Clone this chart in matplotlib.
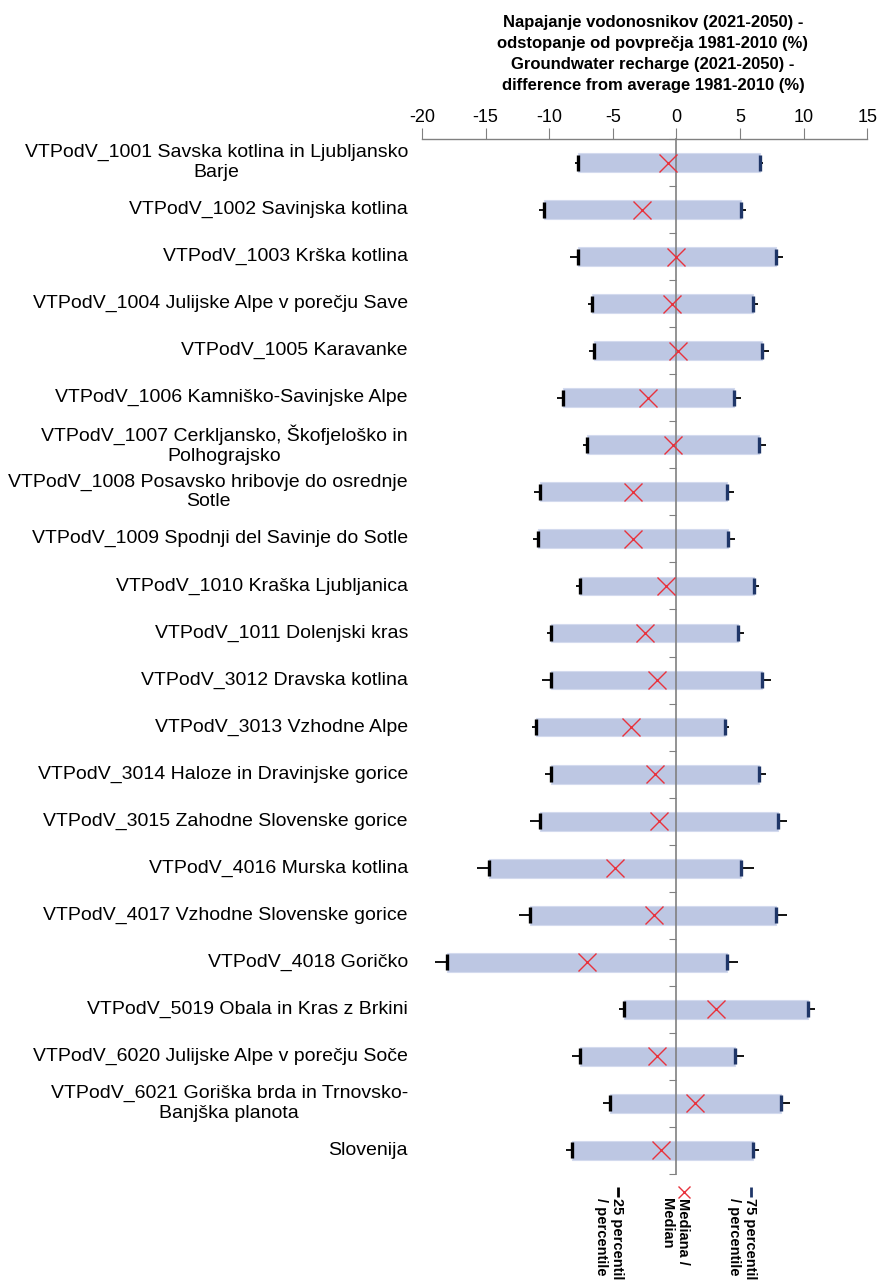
import numpy as np
import matplotlib
matplotlib.use("Agg")
import matplotlib.pyplot as plt
from matplotlib.transforms import blended_transform_factory
from matplotlib.lines import Line2D

plt.rcParams['font.family'] = ['Liberation Sans', 'DejaVu Sans']

categories = [
    "VTPodV_1001 Savska kotlina in Ljubljansko\nBarje",
    "VTPodV_1002 Savinjska kotlina",
    "VTPodV_1003 Krška kotlina",
    "VTPodV_1004 Julijske Alpe v porečju Save",
    "VTPodV_1005 Karavanke",
    "VTPodV_1006 Kamniško-Savinjske Alpe",
    "VTPodV_1007 Cerkljansko, Škofjeloško in\nPolhograjsko",
    "VTPodV_1008 Posavsko hribovje do osrednje\nSotle",
    "VTPodV_1009 Spodnji del Savinje do Sotle",
    "VTPodV_1010 Kraška Ljubljanica",
    "VTPodV_1011 Dolenjski kras",
    "VTPodV_3012 Dravska kotlina",
    "VTPodV_3013 Vzhodne Alpe",
    "VTPodV_3014 Haloze in Dravinjske gorice",
    "VTPodV_3015 Zahodne Slovenske gorice",
    "VTPodV_4016 Murska kotlina",
    "VTPodV_4017 Vzhodne Slovenske gorice",
    "VTPodV_4018 Goričko",
    "VTPodV_5019 Obala in Kras z Brkini",
    "VTPodV_6020 Julijske Alpe v porečju Soče",
    "VTPodV_6021 Goriška brda in Trnovsko-\nBanjška planota",
    "Slovenija",
]

p25 = [-7.75, -10.4, -7.75, -6.65, -6.45, -8.9, -7.05, -10.75, -10.9, -7.6, -9.85,
       -9.85, -11.05, -9.85, -10.75, -14.7, -11.5, -18.05, -4.1, -7.6, -5.2, -8.2]
median = [-0.65, -2.7, 0.0, -0.35, 0.15, -2.2, -0.25, -3.4, -3.4, -0.8, -2.5,
          -1.55, -3.6, -1.65, -1.4, -4.85, -1.8, -7.05, 3.1, -1.5, 1.45, -1.2]
p75 = [6.6, 5.1, 7.8, 6.0, 6.75, 4.55, 6.5, 4.0, 4.05, 6.1, 4.85,
       6.75, 3.8, 6.5, 7.95, 5.05, 7.85, 3.95, 10.3, 4.6, 8.2, 6.0]
low = [-8.0, -10.8, -8.4, -6.95, -6.9, -9.4, -7.35, -11.2, -11.3, -7.9, -10.2,
       -10.55, -11.35, -10.35, -11.5, -15.7, -12.4, -19.0, -4.55, -8.2, -5.8, -8.65]
high = [6.8, 5.5, 8.4, 6.4, 7.25, 5.1, 7.0, 4.5, 4.6, 6.5, 5.3,
        7.45, 4.1, 7.05, 8.7, 6.1, 8.7, 4.85, 10.85, 5.3, 8.95, 6.5]

xticks = [-20, -15, -10, -5, 0, 5, 10, 15]

title = ("Napajanje vodonosnikov (2021-2050) -\n"
         "odstopanje od povprečja 1981-2010 (%)\n"
         "Groundwater recharge (2021-2050) -\n"
         "difference from average 1981-2010 (%)")

W, H = 878, 1281
fig = plt.figure(figsize=(W / 100, H / 100), dpi=100)
ax = fig.add_axes([422 / W, 1 - 1174 / H, (867.3 - 422) / W, (1174 - 139) / H])

n = len(categories)
y = np.arange(n)
p25a, p75a = np.array(p25), np.array(p75)

ax.barh(y, p75a - p25a, left=p25a, height=0.40, color='#BDC7E3',
        edgecolor='#D3DAEE', linewidth=0.8, zorder=2)
ax.hlines(y, low, p25, color='black', lw=1.3, zorder=3)
ax.hlines(y, p75, high, color='black', lw=1.3, zorder=3)
ax.plot(p25, y, ls='none', marker='|', ms=12, mew=2.4, color='black', zorder=4)
ax.plot(p75, y, ls='none', marker='|', ms=12, mew=2.4, color='#1F3668', zorder=4)
ax.plot(median, y, ls='none', marker='x', ms=13, mew=1.0, color='#E8323C', zorder=5)

ax.set_xlim(-20, 15)
ax.set_ylim(n - 0.5, -0.5)
ax.xaxis.tick_top()
ax.set_xticks(xticks)
ax.set_xticklabels([str(v) for v in xticks], fontsize=13)
ax.tick_params(axis='x', direction='out', length=8, color='#808080', pad=1)

ax.spines['bottom'].set_visible(False)
ax.spines['right'].set_visible(False)
ax.spines['top'].set_color('#808080')
ax.spines['top'].set_linewidth(1.0)
ax.spines['left'].set_position(('data', 0))
ax.spines['left'].set_color('#808080')
ax.spines['left'].set_linewidth(1.2)
ax.set_yticks(np.arange(-0.5, n, 1.0))
ax.tick_params(axis='y', direction='out', length=5, color='#808080', labelleft=False)

trans = blended_transform_factory(fig.transFigure, ax.transData)
for yi, cat in zip(y, categories):
    ax.text(408 / W, yi, cat, transform=trans, ha='right', va='center',
            multialignment='center', fontsize=14, linespacing=1.2)

fig.text(653 / W, 1 - 15 / H, title, ha='center', va='top', fontsize=12,
         fontweight='bold', linespacing=1.5)

# Legend (rotated, bottom)
leg_items = [
    (617, "25 percentil\n/ percentile", 'black', '_'),
    (683, "Mediana /\nMedian", '#E8323C', 'x'),
    (750, "75 percentil\n/ percentile", '#1F3668', '_'),
]
for xc, txt, col, mk in leg_items:
    fig.add_artist(Line2D([(xc + 1) / W], [1 - 1192 / H], transform=fig.transFigure,
                          marker='|' if mk == '_' else 'x', ls='none', color=col,
                          ms=7 if mk == '_' else 8, mew=2 if mk == '_' else 1.0))
    fig.text((xc - 8) / W, 1 - 1198 / H, txt, rotation=270, ha='center', va='top',
             fontsize=10.5, fontweight='bold', multialignment='left', linespacing=1.1)

fig.savefig('out.png', dpi=100)
